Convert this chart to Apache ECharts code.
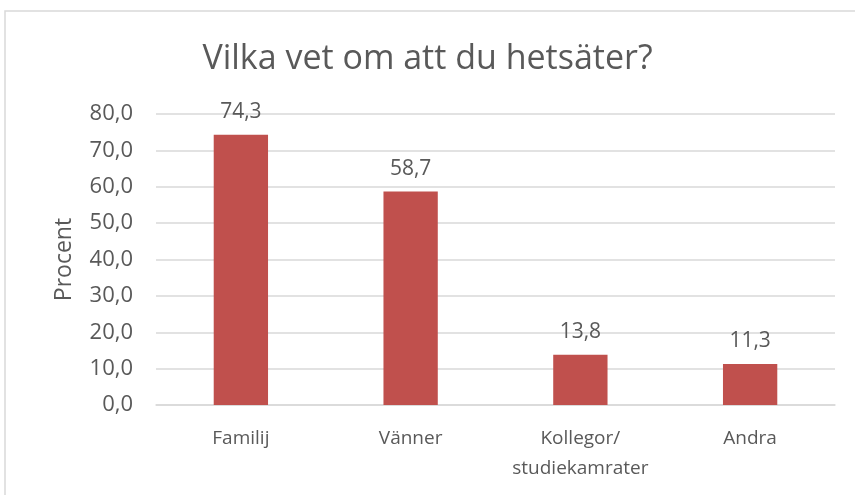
<!DOCTYPE html>
<html lang="sv">
<head>
  <meta charset="UTF-8">
  <title>Vilka vet om att du hetsäter?</title>
  <script src="https://cdn.jsdelivr.net/npm/echarts@6/dist/echarts.min.js"></script>
  <style>
    html, body { margin: 0; padding: 0; background: #fff; }
    #main { width: 855px; height: 495px; }
  </style>
</head>
<body>
  <div id="main"></div>
  <script>
    // data
    var categories = ['Familij', 'Vänner', 'Kollegor/\nstudiekamrater', 'Andra'];
    var values = [74.3, 58.7, 13.8, 11.3];
    var yTicks = [0, 10, 20, 30, 40, 50, 60, 70, 80];

    var font = '"Open Sans", "Noto Sans", sans-serif';
    var grey = '#595959';

    function komma(v) {
      return Number(v).toFixed(1).replace('.', ',');
    }

    var myChart = echarts.init(document.getElementById('main'));
    var option = {
      backgroundColor: '#fff',
      textStyle: { fontFamily: font },
      graphic: [{
        type: 'rect',
        shape: { x: 5, y: 11, width: 900, height: 520 },
        style: { fill: 'none', stroke: '#d9d9d9', lineWidth: 1.5 },
        silent: true
      }],
      title: {
        text: 'Vilka vet om att du hetsäter?',
        left: 'center',
        top: 37,
        textStyle: { fontFamily: font, fontSize: 34, fontWeight: 'normal', color: grey }
      },
      grid: { left: 156, right: 20, top: 114, bottom: 90 },
      xAxis: {
        type: 'category',
        data: categories,
        axisLine: { lineStyle: { color: '#d9d9d9', width: 1.5 } },
        axisTick: { show: false },
        axisLabel: { interval: 0, fontFamily: font, fontSize: 19, color: grey, margin: 19, lineHeight: 30 }
      },
      yAxis: {
        type: 'value',
        min: yTicks[0],
        max: yTicks[yTicks.length - 1],
        interval: yTicks[1] - yTicks[0],
        name: 'Procent',
        nameLocation: 'middle',
        nameGap: 80,
        nameRotate: 90,
        nameTextStyle: { fontFamily: font, fontSize: 23, color: grey },
        axisLine: { show: false },
        axisTick: { show: false },
        axisLabel: { fontFamily: font, fontSize: 22, color: grey, margin: 23, formatter: komma },
        splitLine: { lineStyle: { color: '#d9d9d9', width: 1.5 } }
      },
      series: [{
        type: 'bar',
        data: values,
        barWidth: '32%',
        itemStyle: { color: '#c0504d' },
        label: {
          show: true,
          position: 'top',
          distance: 12,
          fontFamily: font,
          fontSize: 21,
          color: grey,
          formatter: function (p) { return komma(p.value); }
        }
      }]
    };
    option && myChart.setOption(option);
  </script>
</body>
</html>
